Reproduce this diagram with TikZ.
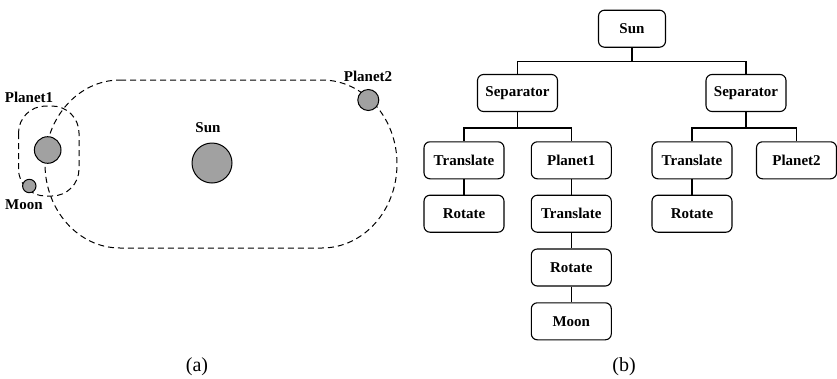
\documentclass[tikz,border=0pt]{standalone}
\usepackage{fontspec}
\setmainfont{Liberation Serif}
\usetikzlibrary{calc}
\begin{document}
\begin{tikzpicture}[x=1pt,y=1pt,
  orbit/.style={dashed,dash pattern=on 6pt off 4pt,line width=1pt},
  body/.style={circle,draw,fill=black!37,line width=1pt,inner sep=0pt},
  lbl/.style={font=\fontsize{15}{17}\selectfont\bfseries,inner sep=0pt},
  captext/.style={font=\fontsize{20}{22}\selectfont,inner sep=0pt},
  box/.style={draw,rounded corners=6pt,line width=1.1pt,minimum width=80pt,minimum height=37pt,inner sep=0pt,font=\fontsize{15}{17}\selectfont\bfseries},
  link/.style={line width=1.2pt}]
\useasboundingbox (0,0) rectangle (837,-378);
% ---------- (a) ----------
\draw[orbit] (120,-80) -- (322,-80) arc[start angle=90,end angle=-90,x radius=75,y radius=84]
  -- (120,-248) arc[start angle=270,end angle=90,x radius=75,y radius=84] -- cycle;
\draw[orbit,rounded corners=27pt] (18.5,-106) rectangle (79,-196);
\node[body,minimum size=40pt] (sunc) at (212,-163) {};
\node[body,minimum size=21pt] (p2c) at (368.3,-100) {};
\node[body,minimum size=26.6pt] (p1c) at (47.7,-150) {};
\node[body,minimum size=13.4pt] (moonc) at (29.3,-186) {};
\node[lbl] (lp1) at (29,-97) {Planet1};
\node[lbl] (lmoon) at (24,-205) {Moon};
\node[lbl] (lsun) at (208,-128) {Sun};
\node[lbl] (lp2) at (368,-76) {Planet2};
\node[captext] (capa) at (197,-367) {(a)};
% ---------- (b) ----------
\node[box,minimum width=67pt] (sun) at (632,-28.7) {Sun};
\node[box] (sepL) at (517.5,-93) {Separator};
\node[box] (sepR) at (746,-93) {Separator};
\node[box] (trL) at (464,-160.3) {Translate};
\node[box] (pl1) at (571.3,-160.3) {Planet1};
\node[box] (trR) at (692,-160.3) {Translate};
\node[box] (pl2) at (796.5,-160.3) {Planet2};
\node[box] (rotL) at (464,-213.7) {Rotate};
\node[box] (trM) at (571.3,-213.7) {Translate};
\node[box] (rotR) at (692,-213.7) {Rotate};
\node[box] (rotM) at (571.3,-267.5) {Rotate};
\node[box] (moon) at (571.3,-321.3) {Moon};
\node[captext] (capb) at (624,-367) {(b)};
\draw[link] (sun.south) -- ++(0,-13.5) -| (sepL.north);
\draw[link] (sun.south) -- ++(0,-13.5) -| (sepR.north);
\draw[link] (sepL.south) -- ++(0,-16) -| (trL.north);
\draw[link] (sepL.south) -- ++(0,-16) -| (pl1.north);
\draw[link] (sepR.south) -- ++(0,-16) -| (trR.north);
\draw[link] (sepR.south) -- ++(0,-16) -| (pl2.north);
\draw[link] (trL) -- (rotL);
\draw[link] (pl1) -- (trM);
\draw[link] (trM) -- (rotM);
\draw[link] (rotM) -- (moon);
\draw[link] (trR) -- (rotR);
\end{tikzpicture}
\end{document}
